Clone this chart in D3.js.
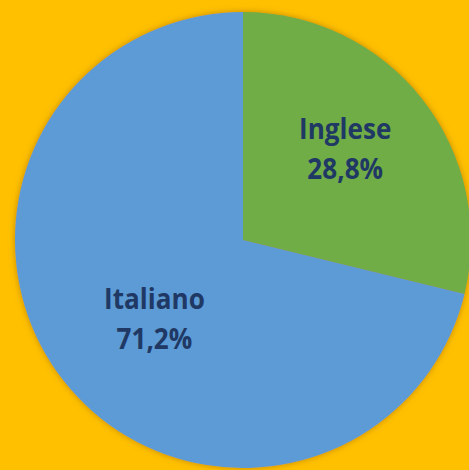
<!DOCTYPE html>
<html><head><meta charset="utf-8">
<script src="https://cdn.jsdelivr.net/npm/d3@7"></script>
<style>html,body{margin:0;padding:0;background:#FFC000;}svg{display:block;}</style>
</head><body>
<script>
const categories = ["Inglese", "Italiano"];
const values = [28.8, 71.2];
const colors = ["#70AD47", "#5B9BD5"];
const labels = ["28,8%", "71,2%"];

const W = 469, H = 470;
const cx = 243, cy = 240, R = 228;
const labelRadiusFrac = [0.6, 0.52];   // label placement (style), per slice
const labelAngleShift = -3.5 * Math.PI / 180;
const svg = d3.select("body").append("svg").attr("width", W).attr("height", H);
svg.append("rect").attr("width", W).attr("height", H).attr("fill", "#FFC000");
const defs = svg.append("defs");
const f = defs.append("filter").attr("id", "sh").attr("x", "-10%").attr("y", "-10%").attr("width", "120%").attr("height", "120%");
f.append("feGaussianBlur").attr("in", "SourceAlpha").attr("stdDeviation", 3).attr("result", "b");
f.append("feFlood").attr("flood-color", "#B07800").attr("flood-opacity", 0.8);
f.append("feComposite").attr("in2", "b").attr("operator", "in");
const m = f.append("feMerge");
m.append("feMergeNode");
m.append("feMergeNode").attr("in", "SourceGraphic");

const data = categories.map((c, i) => ({cat: c, value: values[i], color: colors[i], label: labels[i]}));
const pie = d3.pie().value(d => d.value).sort(null);
const arc = d3.arc().innerRadius(0).outerRadius(R);
const g = svg.append("g").attr("transform", `translate(${cx},${cy})`);
const arcs = pie(data);
g.append("g").attr("filter", "url(#sh)").selectAll("path").data(arcs).join("path")
  .attr("d", arc).attr("fill", d => d.data.color);
const lg = g.selectAll("g.lab").data(arcs).join("g").attr("class", "lab")
  .attr("transform", (d, i) => {
    const a = (d.startAngle + d.endAngle) / 2 + labelAngleShift;
    const r = R * labelRadiusFrac[i];
    return `translate(${r * Math.sin(a)},${-r * Math.cos(a)}) scale(0.9,1)`;
  });
lg.append("text").attr("text-anchor", "middle").attr("y", -10)
  .attr("font-family", "'Open Sans', sans-serif").attr("font-weight", "bold").attr("font-size", 29)
  .attr("fill", "#203864").text(d => d.data.cat);
lg.append("text").attr("text-anchor", "middle").attr("y", 30)
  .attr("font-family", "'Open Sans', sans-serif").attr("font-weight", "bold").attr("font-size", 29)
  .attr("fill", "#203864").text(d => d.data.label);
</script>
</body></html>
